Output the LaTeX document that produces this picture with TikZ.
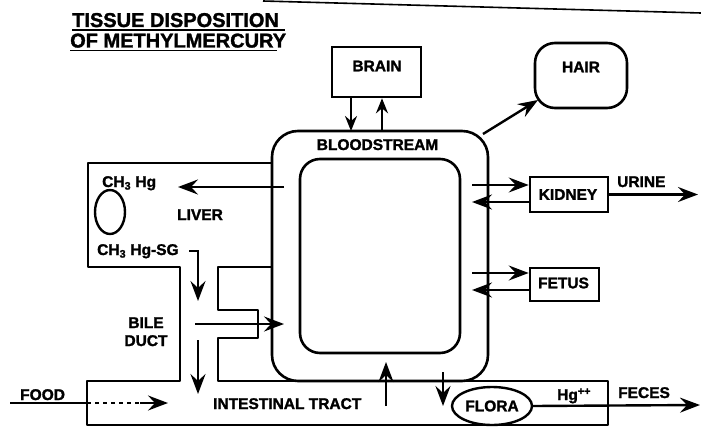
\documentclass[tikz,border=0pt]{standalone}
\usepackage{fontspec}
\setmainfont[BoldFeatures={FakeBold=1.6}]{Liberation Sans}
\usetikzlibrary{arrows.meta,shapes.geometric}
\begin{document}
\begin{tikzpicture}[x=1pt,y=-1pt,
  wall/.style={line width=2.6pt,line join=round},
  arr/.style={line width=2.4pt,-{Stealth[length=20pt,width=15pt,inset=7pt]}},
  sarr/.style={line width=2.4pt,-{Stealth[length=15pt,width=12pt,inset=5pt]}},
  lbl/.style={font=\bfseries\fontsize{15.5}{16}\selectfont,inner sep=0pt},
  ttl/.style={font=\bfseries\fontsize{20}{22}\selectfont,inner sep=0pt,anchor=base west},
  box/.style={draw,line width=2.6pt,inner sep=0pt},
  oval/.style={draw,ellipse,line width=2.4pt,inner sep=0pt}]
\useasboundingbox (0,0) rectangle (701,428);
% title
\node[ttl] (t1) at (72,27) {TISSUE DISPOSITION};
\node[ttl] (t2) at (70,47.5) {OF METHYLMERCURY};
\draw[line width=1.8pt] (72,30) -- (285,30);
\draw[line width=1.8pt] (70,50.5) -- (277,50.5);
\draw[line width=1.6pt] (263,1) -- (701,13);
% bloodstream
\node[box,rounded corners=26pt,minimum width=216pt,minimum height=250pt] (blood) at (380,256) {};
\node[box,rounded corners=20pt,minimum width=160pt,minimum height=194pt] (inner) at (380,256) {};
\node[lbl,anchor=base] (bloodlbl) at (377.5,150) {BLOODSTREAM};
% liver, bile duct, intestine outline
\draw[wall] (272,163) -- (88,163) -- (88,267) -- (180,267) -- (180,381) -- (87,381) -- (87,425) -- (608,425) -- (608,381) -- (218,381) -- (218,338) -- (258,338) -- (258,310) -- (218,310) -- (218,267) -- (272,267);
% brain
\node[box,minimum width=89pt,minimum height=50pt] (brain) at (376.5,72) {};
\node[lbl] (brainlbl) at (377,66) {BRAIN};
\coordinate (bd) at (351,131);
\coordinate (bu) at (382,131);
\draw[sarr] (brain.south -| bd) -- (bd);
\draw[sarr] (bu) -- (brain.south -| bu);
% hair
\node[box,rounded corners=20pt,minimum width=92pt,minimum height=65pt] (hair) at (581,75.5) {};
\node[lbl] (hairlbl) at (581,67) {HAIR};
\coordinate (h0) at (483,134);
\coordinate (h1) at (538,100);
\draw[arr] (h0) -- (h1);
% kidney
\node[box,minimum width=78pt,minimum height=35pt] (kidney) at (569,194.5) {};
\node[lbl] (kidneylbl) at (568,194.5) {KIDNEY};
\coordinate (k1) at (472,185);
\coordinate (k2) at (472,202);
\draw[arr] (k1) -- (k1 -| kidney.west);
\draw[arr] (k2 -| kidney.west) -- (k2);
\coordinate (u1) at (698,194.5);
\draw[arr] (kidney.east) -- (u1);
\node[lbl,anchor=base west] (urine) at (617,187) {URINE};
% fetus
\node[box,minimum width=69pt,minimum height=33pt] (fetus) at (564.5,284.5) {};
\node[lbl] (fetuslbl) at (563.5,283) {FETUS};
\coordinate (f1) at (472,273);
\coordinate (f2) at (472,290);
\draw[arr] (f1) -- (f1 -| fetus.west);
\draw[arr] (f2 -| fetus.west) -- (f2);
% liver contents
\coordinate (l0) at (284,187);
\coordinate (l1) at (178,187);
\draw[arr] (l0) -- (l1);
\node[lbl,anchor=base west] (ch3hg) at (102,187) {CH\textsubscript{3} Hg};
\node[oval,minimum width=30pt,minimum height=44pt] (vesicle) at (110,212) {};
\node[lbl,anchor=base west] (liver) at (177,220) {LIVER};
\node[lbl,anchor=base west] (sg) at (97,255) {CH\textsubscript{3} Hg-SG};
% bile duct
\coordinate (s0) at (189,251);
\coordinate (d1) at (198,301);
\draw[arr] (s0) -| (d1);
\coordinate (d2) at (198,340);
\coordinate (d3) at (198,394);
\draw[arr] (d2) -- (d3);
\coordinate (b0) at (195,324);
\coordinate (b1) at (284,324);
\draw[arr] (b0) -- (b1);
\node[lbl,anchor=base] (bile) at (146,328) {BILE};
\node[lbl,anchor=base] (duct) at (146,346) {DUCT};
% food
\node[lbl,anchor=base west] (food) at (20,400) {FOOD};
\coordinate (fo0) at (10,403);
\coordinate (fo1) at (87,403);
\coordinate (fo2) at (140,403);
\coordinate (fo3) at (168,403);
\draw[line width=2.4pt] (fo0) -- (fo1);
\draw[line width=1.5pt,dash pattern=on 4pt off 4pt] (fo1) -- (fo2);
\draw[arr] (fo2) -- (fo3);
\node[lbl,anchor=base west] (tract) at (213,409) {INTESTINAL TRACT};
% intestine exchange
\coordinate (i0) at (386,406);
\coordinate (i1) at (386,362);
\draw[arr] (i0) -- (i1);
\coordinate (i2) at (443,372);
\coordinate (i3) at (443,406);
\draw[arr] (i2) -- (i3);
% flora, feces
\node[oval,minimum width=80pt,minimum height=38pt,font=\bfseries\fontsize{15.5}{16}\selectfont] (flora) at (492,406) {FLORA};
\coordinate (fe) at (700,405);
\draw[arr] (flora.east) -- (fe);
\node[lbl,anchor=base west] (hg) at (557,400) {Hg\textsuperscript{++}};
\node[lbl,anchor=base west] (feces) at (618,398) {FECES};
\end{tikzpicture}
\end{document}
